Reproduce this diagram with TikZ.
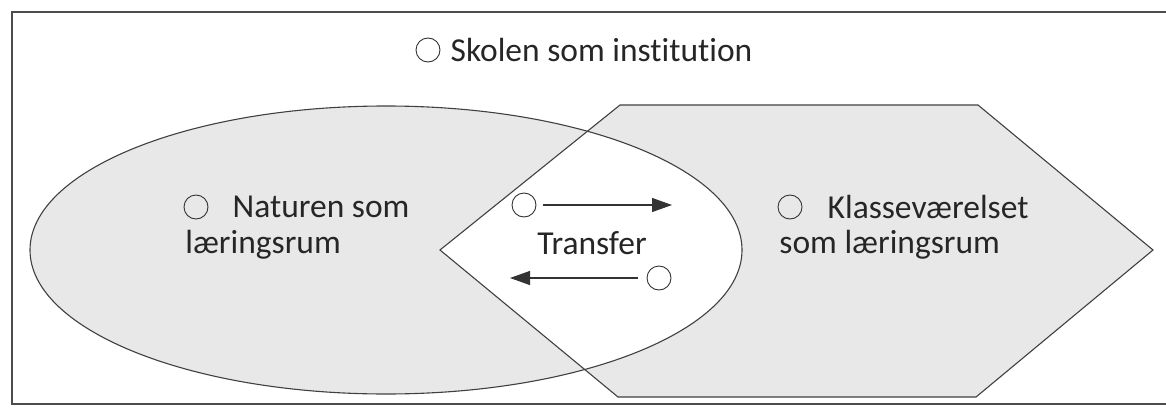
\documentclass[tikz,border=0pt]{standalone}
\usepackage{fontspec}
\setmainfont[Ligatures=NoCommon]{Carlito}
\usetikzlibrary{positioning, shapes.geometric, arrows.meta}

\begin{document}
\begin{tikzpicture}[x=1pt, y=-1pt, font=\fontsize{33.5}{42}\selectfont, text=black!85]
\tikzstyle{ring}=[%
circle, draw=black!80, line width=0.9pt,
minimum size=24pt, inner sep=0pt
]
\tikzstyle{area}=[%
draw=black!75, line width=1.1pt
]
\tikzstyle{pil}=[%
-{Triangle[length=20pt,width=14pt]},
line width=1.1pt, draw=black!80, fill=black!80
]
\tikzstyle{txt}=[inner sep=0pt]
\useasboundingbox (0,0) rectangle (1166,412);
   % frame
   \draw[line width=1.2pt, black!70] (1166,12) -- (12,12) -- (12,404) -- (1166,404);
   % corners of the hexagon
   \coordinate (h1) at (440,250);
   \coordinate (h2) at (620,105);
   \coordinate (h3) at (978,105);
   \coordinate (h4) at (1153,250);
   \coordinate (h5) at (976,397);
   \coordinate (h6) at (618,397);
   % grey areas, white overlap
   \fill[black!9] (386,250) ellipse [x radius=356, y radius=144];
   \fill[black!9] (h1) -- (h2) -- (h3) -- (h4) -- (h5) -- (h6) -- cycle;
   \begin{scope}
      \clip (h1) -- (h2) -- (h3) -- (h4) -- (h5) -- (h6) -- cycle;
      \fill[white] (386,250) ellipse [x radius=356, y radius=144];
   \end{scope}
   \node[area, ellipse, minimum width=712pt, minimum height=288pt, inner sep=0pt] (natur) at (386,250) {};
   \draw[area] (h1) -- (h2) -- (h3) -- (h4) -- (h5) -- (h6) -- cycle;
   % labels
   \node[ring] (o1) at (428,50) {};
   \node[txt, right=10pt of o1] (skole) {Skolen som institution};
   \node[ring] (o2) at (196,207) {};
   \node[txt, right=24pt of o2] (natur1) {Naturen som};
   \node[txt, below right=14pt and -2pt of o2.south west] (natur2) {læringsrum};
   \node[ring] (o3) at (790,207) {};
   \node[txt, right=25pt of o3] (klasse1) {Klasseværelset};
   \node[txt, below right=14pt and -2pt of o3.south west] (klasse2) {som læringsrum};
   % transfer
   \node[ring] (t1) at (524,205) {};
   \node[ring] (t2) at (659,278) {};
   \node[txt] (transfer) at (592,243) {Transfer};
   \coordinate (t1end) at (672,205);
   \coordinate (t2end) at (510,278);
   \draw[pil, shorten <=7pt] (t1) -- (t1end);
   \draw[pil, shorten <=9pt] (t2) -- (t2end);
\end{tikzpicture}
\end{document}
